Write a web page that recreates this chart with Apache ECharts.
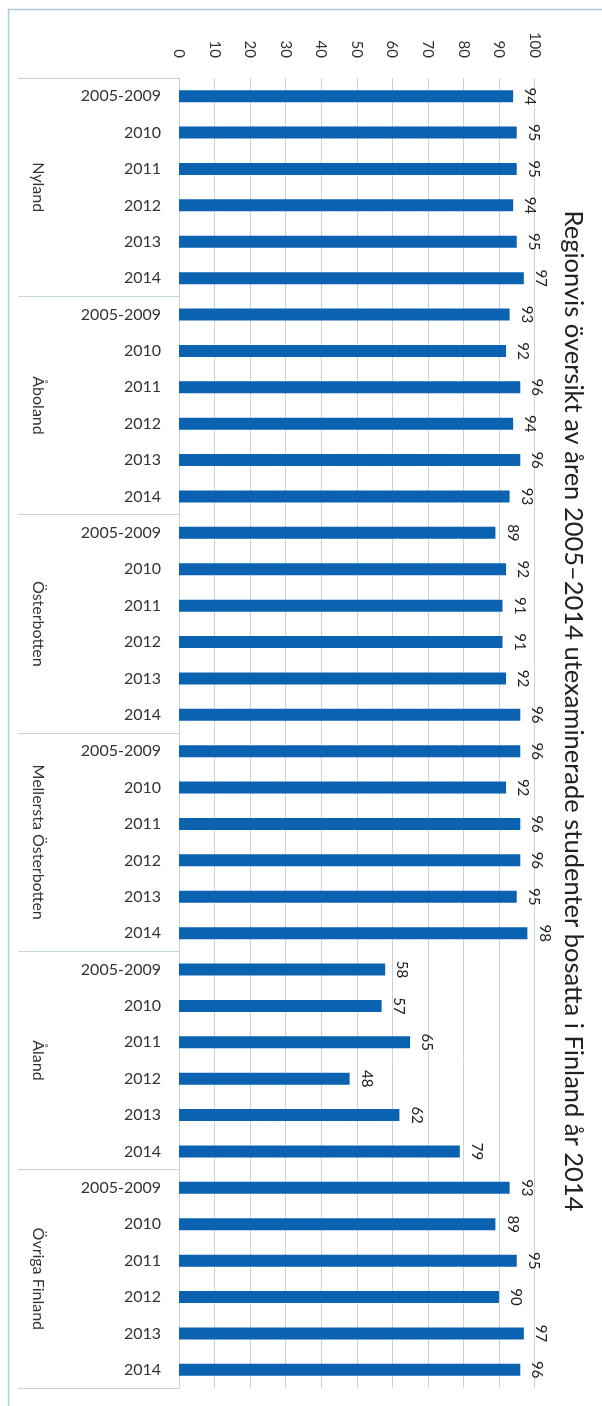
<!DOCTYPE html>
<html>
<head>
<meta charset="utf-8">
<script src="https://cdn.jsdelivr.net/npm/echarts@6/dist/echarts.min.js"></script>
<style>
  html, body { margin: 0; padding: 0; background: #ffffff; }
  #chart { width: 602px; height: 1406px; }
</style>
</head>
<body>
<div id="chart"></div>
<script>
// regioner och år
const regions = ['Nyland', 'Åboland', 'Österbotten', 'Mellersta Österbotten', 'Åland', 'Övriga Finland']
const years = ['2005-2009', '2010', '2011', '2012', '2013', '2014']
// andel (%) per region, i samma ordning som years
const nyland = [94, 95, 95, 94, 95, 97]
const aboland = [93, 92, 96, 94, 96, 93]
const osterbotten = [89, 92, 91, 91, 92, 96]
const mellerstaOsterbotten = [96, 92, 96, 96, 95, 98]
const aland = [58, 57, 65, 48, 62, 79]
const ovrigaFinland = [93, 89, 95, 90, 97, 96]
// värdeaxel
const axisMin = 0
const axisMax = 100
const axisStep = 10

const titleText = 'Regionvis översikt av åren 2005–2014 utexaminerade studenter bosatta i Finland år 2014'

const groups = [nyland, aboland, osterbotten, mellerstaOsterbotten, aland, ovrigaFinland]
const categories = []
const values = []
groups.forEach((vals, gi) => {
  vals.forEach((v, yi) => {
    categories.push(regions[gi] + '|' + years[yi])
    values.push(v)
  })
})

const font = 'Lato'
const gridColor = '#c3d6e0'

const myChart = echarts.init(document.getElementById('chart'))
const option = {
  backgroundColor: '#ffffff',
  animation: false,
  textStyle: { fontFamily: font },
  grid: { left: 179, right: 67.5, top: 78, bottom: 18 },
  xAxis: {
    type: 'value',
    position: 'top',
    min: axisMin,
    max: axisMax,
    interval: axisStep,
    axisLine: { show: false },
    axisTick: { show: false },
    splitLine: { show: true, lineStyle: { color: gridColor, width: 1 } },
    axisLabel: {
      rotate: 90,
      margin: 20,
      align: 'right',
      verticalAlign: 'middle',
      fontSize: 15,
      color: '#333333',
      fontFamily: font
    }
  },
  yAxis: [
    {
      type: 'category',
      data: categories,
      inverse: true,
      position: 'left',
      axisLine: { show: true, lineStyle: { color: gridColor, width: 1 } },
      axisTick: { show: false },
      axisLabel: {
        interval: 0,
        margin: 18,
        fontSize: 16,
        color: '#333333',
        fontFamily: font,
        formatter: (v) => v.split('|')[1]
      }
    },
    {
      type: 'category',
      data: regions,
      inverse: true,
      position: 'left',
      offset: 0,
      axisLine: { show: false },
      axisTick: { show: true, length: 161, lineStyle: { color: gridColor, width: 1 } },
      axisLabel: {
        interval: 0,
        rotate: -90,
        margin: 141,
        align: 'center',
        verticalAlign: 'middle',
        fontSize: 16,
        color: '#333333',
        fontFamily: font
      }
    }
  ],
  series: [
    {
      type: 'bar',
      data: values,
      barWidth: 12,
      itemStyle: { color: '#0a62b1' },
      label: {
        show: true,
        position: 'right',
        rotate: -90,
        distance: 17,
        align: 'center',
        verticalAlign: 'middle',
        fontSize: 15,
        color: '#222222',
        fontFamily: font
      }
    }
  ],
  graphic: [
    {
      type: 'rect',
      silent: true,
      shape: { x: 8.5, y: 9.5, width: 640, height: 1440 },
      style: { fill: 'none', stroke: '#a9cce0', lineWidth: 1.5 }
    },
    {
      type: 'text',
      x: 573,
      y: 711,
      rotation: -Math.PI / 2,
      style: {
        text: titleText,
        x: 0,
        y: 0,
        align: 'center',
        verticalAlign: 'middle',
        fontSize: 25.5,
        fontFamily: font,
        fill: '#222222'
      }
    }
  ]
}
myChart.setOption(option, true)
addEventListener('resize', () => {
  myChart.resize()
})
</script>
</body>
</html>
